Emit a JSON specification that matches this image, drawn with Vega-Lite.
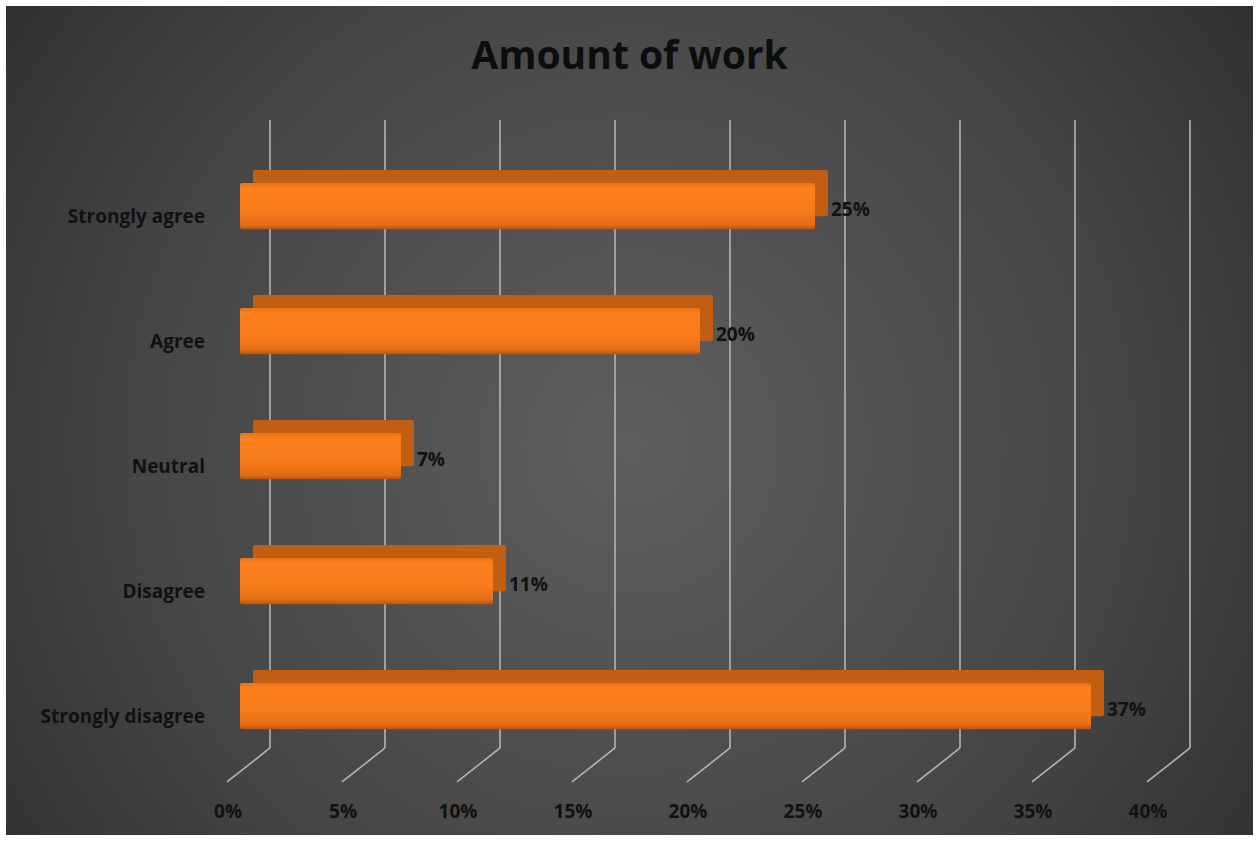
{
  "$schema": "https://vega.github.io/schema/vega-lite/v6.json",
  "width": 1259,
  "height": 841,
  "autosize": "none",
  "padding": 0,
  "background": "#ffffff",
  "datasets": {
    "bars": [
      {"cat": "Strongly agree", "value": 0.25},
      {"cat": "Agree", "value": 0.20},
      {"cat": "Neutral", "value": 0.07},
      {"cat": "Disagree", "value": 0.11},
      {"cat": "Strongly disagree", "value": 0.37}
    ],
    "ticks": [
      {"v": 0}, {"v": 0.05}, {"v": 0.10}, {"v": 0.15}, {"v": 0.20},
      {"v": 0.25}, {"v": 0.30}, {"v": 0.35}, {"v": 0.40}
    ],
    "titles": [{"t": "Amount of work"}]
  },
  "resolve": {"scale": {"y": "independent"}},
  "layer": [
    {
      "data": {"name": "ticks"},
      "mark": {"type": "rule", "color": "#b4b4b4", "strokeWidth": 1.6, "xOffset": 30, "x2Offset": 30},
      "encoding": {
        "x": {"field": "v", "type": "quantitative", "scale": {"domain": [-0.104348, 0.443043], "nice": false, "zero": false}, "axis": null},
        "y": {"datum": 0.1427, "type": "quantitative", "scale": {"domain": [0, 1], "reverse": true, "nice": false, "zero": false}, "axis": null},
        "y2": {"datum": 0.8894}
      }
    },
    {
      "data": {"name": "ticks"},
      "mark": {"type": "rule", "color": "#b4b4b4", "strokeWidth": 1.6, "xOffset": 30, "x2Offset": -13},
      "encoding": {
        "x": {"field": "v", "type": "quantitative", "scale": {"domain": [-0.104348, 0.443043], "nice": false, "zero": false}, "axis": null},
        "x2": {"field": "v"},
        "y": {"datum": 0.8894, "type": "quantitative", "scale": {"domain": [0, 1], "reverse": true, "nice": false, "zero": false}, "axis": null},
        "y2": {"datum": 0.9298}
      }
    },
    {
      "data": {"name": "bars"},
      "mark": {"type": "bar", "color": "#c25e12", "xOffset": 13, "x2Offset": 13, "yOffset": -13, "cornerRadius": 2},
      "encoding": {
        "x": {"field": "value", "type": "quantitative", "scale": {"domain": [-0.104348, 0.443043], "nice": false, "zero": false}, "axis": null},
        "x2": {"datum": 0},
        "y": {"field": "cat", "type": "nominal", "sort": null, "scale": {"type": "band", "range": [120.5, 791.75], "paddingInner": 0.63, "paddingOuter": 0.5, "align": 0.5}, "axis": null}
      }
    },
    {
      "data": {"name": "bars"},
      "mark": {
        "type": "bar",
        "cornerRadius": 2,
        "fill": {
          "gradient": "linear", "x1": 0, "y1": 0, "x2": 0, "y2": 1,
          "stops": [
            {"offset": 0, "color": "#e8731a"},
            {"offset": 0.12, "color": "#fd801d"},
            {"offset": 0.6, "color": "#f77b1a"},
            {"offset": 0.9, "color": "#e46e16"},
            {"offset": 1, "color": "#b85510"}
          ]
        }
      },
      "encoding": {
        "x": {"field": "value", "type": "quantitative", "scale": {"domain": [-0.104348, 0.443043], "nice": false, "zero": false}, "axis": null},
        "x2": {"datum": 0},
        "y": {"field": "cat", "type": "nominal", "sort": null, "scale": {"type": "band", "range": [120.5, 791.75], "paddingInner": 0.63, "paddingOuter": 0.5, "align": 0.5}, "axis": null}
      }
    },
    {
      "data": {"name": "bars"},
      "mark": {"type": "text", "align": "left", "baseline": "middle", "dx": 16, "dy": 4, "font": "Open Sans", "fontWeight": "bold", "fontSize": 19, "color": "#111111"},
      "encoding": {
        "x": {"field": "value", "type": "quantitative", "scale": {"domain": [-0.104348, 0.443043], "nice": false, "zero": false}, "axis": null},
        "y": {"field": "cat", "type": "nominal", "sort": null, "scale": {"type": "band", "range": [120.5, 791.75], "paddingInner": 0.63, "paddingOuter": 0.5, "align": 0.5}, "axis": null},
        "text": {"field": "value", "type": "quantitative", "format": ".0%"}
      }
    },
    {
      "data": {"name": "bars"},
      "mark": {"type": "text", "align": "right", "baseline": "middle", "dx": -35, "dy": 11, "font": "Open Sans", "fontWeight": "bold", "fontSize": 19, "color": "#111111"},
      "encoding": {
        "x": {"datum": 0, "type": "quantitative", "scale": {"domain": [-0.104348, 0.443043], "nice": false, "zero": false}, "axis": null},
        "y": {"field": "cat", "type": "nominal", "sort": null, "scale": {"type": "band", "range": [120.5, 791.75], "paddingInner": 0.63, "paddingOuter": 0.5, "align": 0.5}, "axis": null},
        "text": {"field": "cat", "type": "nominal"}
      }
    },
    {
      "data": {"name": "ticks"},
      "mark": {"type": "text", "align": "center", "baseline": "middle", "dx": -12, "font": "Open Sans", "fontWeight": "bold", "fontSize": 19, "color": "#111111"},
      "encoding": {
        "x": {"field": "v", "type": "quantitative", "scale": {"domain": [-0.104348, 0.443043], "nice": false, "zero": false}, "axis": null},
        "y": {"datum": 0.9655, "type": "quantitative", "scale": {"domain": [0, 1], "reverse": true, "nice": false, "zero": false}, "axis": null},
        "text": {"field": "v", "type": "quantitative", "format": ".0%"}
      }
    },
    {
      "data": {"name": "titles"},
      "mark": {"type": "text", "align": "center", "baseline": "middle", "font": "Open Sans", "fontWeight": "bold", "fontSize": 39, "color": "#0d0d0d"},
      "encoding": {
        "y": {"datum": 0.0678, "type": "quantitative", "scale": {"domain": [0, 1], "reverse": true, "nice": false, "zero": false}, "axis": null},
        "text": {"field": "t", "type": "nominal"}
      }
    }
  ],
  "config": {
    "view": {
      "fill": {
        "gradient": "radial", "x1": 0.5, "y1": 0.52, "r1": 0, "x2": 0.5, "y2": 0.52, "r2": 0.72,
        "stops": [
          {"offset": 0, "color": "#5e5e5e"},
          {"offset": 0.55, "color": "#454545"},
          {"offset": 1, "color": "#252525"}
        ]
      },
      "stroke": "#ffffff",
      "strokeWidth": 12
    }
  }
}
